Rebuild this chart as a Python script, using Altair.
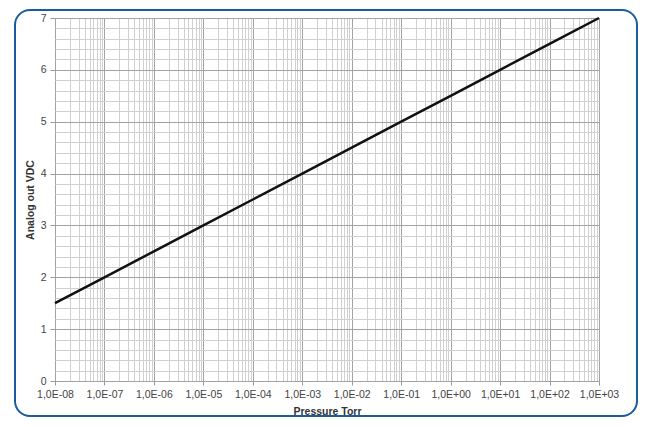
import altair as alt
import pandas as pd

# Data
pressure_torr = [1e-8, 1e-7, 1e-6, 1e-5, 1e-4, 1e-3, 1e-2, 1e-1, 1e0, 1e1, 1e2, 1e3]
analog_vdc = [1.5, 2.0, 2.5, 3.0, 3.5, 4.0, 4.5, 5.0, 5.5, 6.0, 6.5, 7.0]
x_tick_labels = ["1,0E-08", "1,0E-07", "1,0E-06", "1,0E-05", "1,0E-04", "1,0E-03",
                 "1,0E-02", "1,0E-01", "1,0E+00", "1,0E+01", "1,0E+02", "1,0E+03"]

# Grid values (decades plus 2..9 minor steps; y every 0.2)
x_grid = []
for e in range(-8, 3):
    for m in range(1, 10):
        x_grid.append(float(f"{m}e{e}"))
x_grid.append(1e3)
y_grid = [round(i * 0.2, 1) for i in range(0, 36)]

df = pd.DataFrame({"p": pressure_torr, "v": analog_vdc})

W, H = 544, 363

is_decade = "abs(log(datum.value)/LN10 - round(log(datum.value)/LN10)) < 1e-6"
is_int = "abs(datum.value - round(datum.value)) < 1e-6"
labels_js = "[" + ",".join(f"'{s}'" for s in x_tick_labels) + "]"

FONT = "Liberation Sans"

x_axis = alt.Axis(
    values=x_grid,
    title="Pressure Torr",
    labelExpr=f"({is_decade}) ? {labels_js}[round(log(datum.value)/LN10)+8] : ''",
    labelOverlap=False,
    labelFlush=False,
    labelFont=FONT,
    labelFontSize=10.5,
    labelColor="#444444",
    labelPadding=4,
    tickSize=4,
    tickColor="#999999",
    tickOpacity={"condition": {"test": is_decade, "value": 1}, "value": 0},
    grid=True,
    gridColor={"condition": {"test": is_decade, "value": "#a3a3a3"}, "value": "#d0d0d0"},
    gridWidth=1,
    domain=False,
    titleFont=FONT,
    titleFontSize=10.5,
    titleFontWeight="bold",
    titleColor="#333333",
    titleY=25,
    titleBaseline="top",
)

y_axis = alt.Axis(
    values=y_grid,
    title="Analog out VDC",
    labelExpr=f"({is_int}) ? format(datum.value, 'd') : ''",
    labelOverlap=False,
    labelFlush=False,
    labelFont=FONT,
    labelFontSize=10.5,
    labelColor="#444444",
    labelPadding=4,
    tickSize=5,
    tickColor="#999999",
    tickOpacity={"condition": {"test": is_int, "value": 1}, "value": 0},
    grid=True,
    gridColor={"condition": {"test": is_int, "value": "#a3a3a3"}, "value": "#d0d0d0"},
    gridWidth=1,
    domain=False,
    titleFont=FONT,
    titleFontSize=10.5,
    titleFontWeight="bold",
    titleColor="#333333",
    titleX=-25,
    titleBaseline="middle",
)

line = alt.Chart(df).mark_line(color="#111111", strokeWidth=2.5).encode(
    x=alt.X("p:Q", scale=alt.Scale(type="log", domain=[1e-8, 1e3], nice=False), axis=x_axis),
    y=alt.Y("v:Q", scale=alt.Scale(domain=[0, 7], nice=False), axis=y_axis),
)

border = alt.Chart(alt.Data(values=[{}])).mark_rect(
    filled=False, stroke="#1a5c9c", strokeWidth=2, cornerRadius=15
).encode(
    x=alt.value(-40), x2=alt.value(582), y=alt.value(-8), y2=alt.value(398)
)

chart = alt.layer(line, border).properties(
    width=W, height=H,
    autosize=alt.AutoSizeParams(type="none"),
    padding={"left": 47, "top": 10, "right": 39, "bottom": 37},
).configure_view(stroke=None).configure(background="white")

chart.save("out.html", embed_options={"renderer": "svg", "actions": False})
